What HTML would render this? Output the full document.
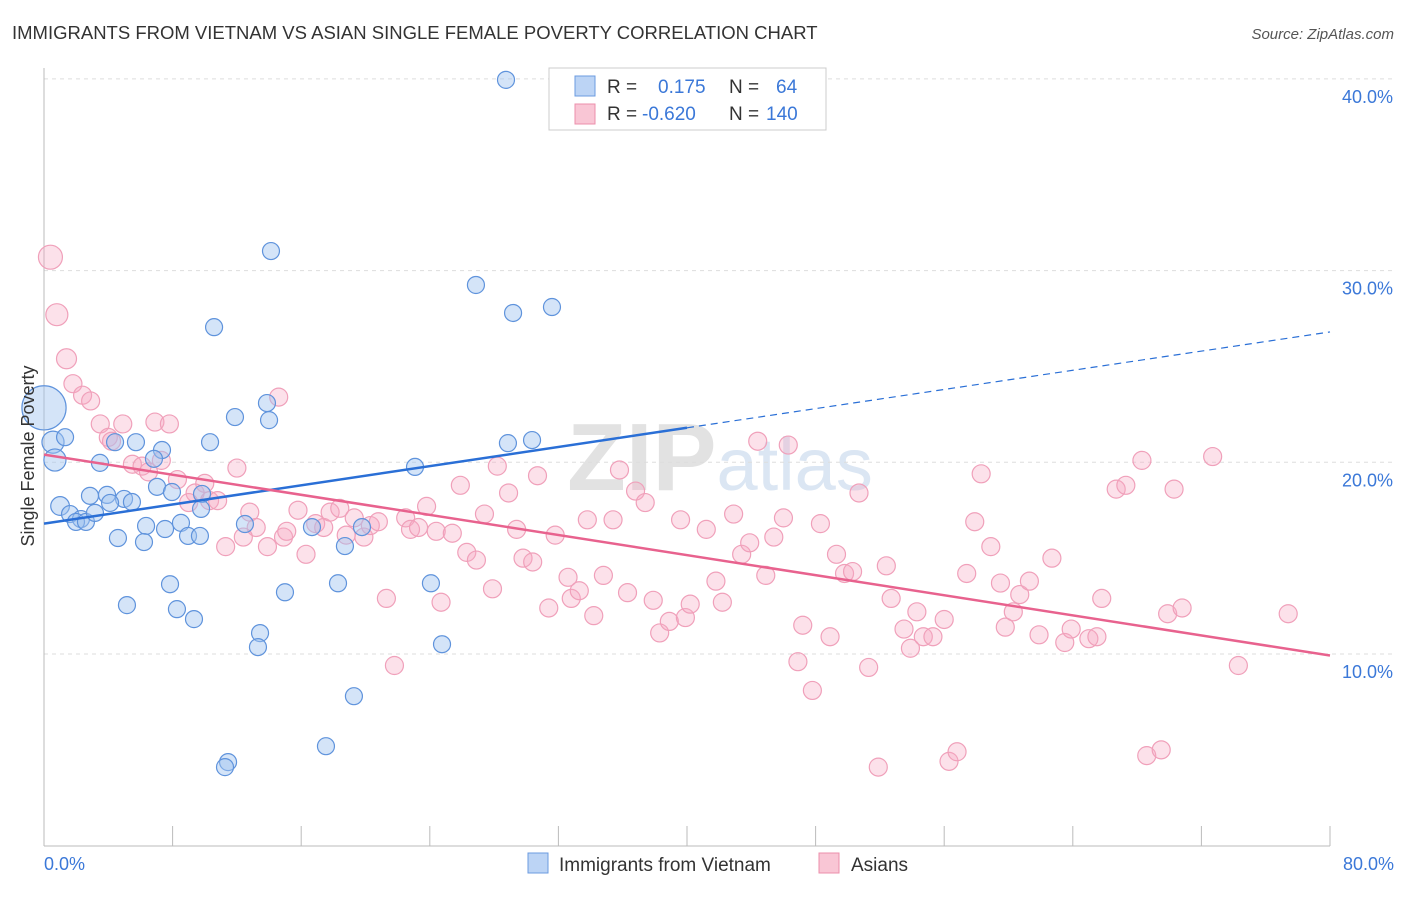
<!DOCTYPE html>
<html><head><meta charset="utf-8"><style>
body{margin:0;background:#fff;font-family:"Liberation Sans",sans-serif;}
svg text{font-family:"Liberation Sans",sans-serif;}
</style></head><body>
<svg id="chart" width="1406" height="892" viewBox="0 0 1406 892">
<text x="12" y="39" font-size="18.5" fill="#333">IMMIGRANTS FROM VIETNAM VS ASIAN SINGLE FEMALE POVERTY CORRELATION CHART</text>
<text x="1394" y="39" font-size="15" fill="#555" font-style="italic" text-anchor="end">Source: ZipAtlas.com</text>
<text x="720" y="490" font-size="96" fill="#e6e6e6" text-anchor="middle" font-weight="bold" font-family="Liberation Serif"><tspan fill="#e2e2e2">ZIP</tspan><tspan fill="#dbe6f3" font-family="Liberation Sans" font-weight="normal" font-size="74">atlas</tspan></text>
<g id="grid"></g>
<g id="axes"></g>
<g id="pts"></g>
<g id="lines"></g>
<text x="34" y="456" font-size="18" fill="#333" text-anchor="middle" transform="rotate(-90 34 456)">Single Female Poverty</text>
<text x="44" y="870" font-size="18" fill="#3b78d8">0.0%</text>
<text x="1394" y="870" font-size="18" fill="#3b78d8" text-anchor="end">80.0%</text>
<g>
<rect x="549" y="68" width="277" height="62" fill="#fff" stroke="#ccc"/>
<rect x="575" y="76" width="20" height="20" fill="#bcd4f5" stroke="#6b9be0"/>
<rect x="575" y="104" width="20" height="20" fill="#f9c6d5" stroke="#ec8fab"/>
<text x="607" y="93" font-size="19" fill="#333">R = <tspan fill="#3b78d8" x="658">0.175</tspan><tspan fill="#333" x="729">N =</tspan><tspan fill="#3b78d8" x="776">64</tspan></text>
<text x="607" y="120" font-size="19" fill="#333">R = <tspan fill="#3b78d8" x="642">-0.620</tspan><tspan fill="#333" x="729">N =</tspan><tspan fill="#3b78d8" x="766">140</tspan></text>
</g>
<g>
<rect x="528" y="853" width="20" height="20" fill="#bcd4f5" stroke="#6b9be0"/>
<text x="559" y="871" font-size="19" fill="#333">Immigrants from Vietnam</text>
<rect x="819" y="853" width="20" height="20" fill="#f9c6d5" stroke="#ec8fab"/>
<text x="851" y="871" font-size="19" fill="#333">Asians</text>
</g>
</svg>
<script>
const yTicks=[10,20,30,40];
const yTickLabels=["10.0%","20.0%","30.0%","40.0%"];
const xTicks=[0,8,16,24,32,40,48,56,64,72,80];
const blueX=[28.74,14.12,26.87,29.18,31.6,10.58,0,13.87,11.88,14.0,0.56,1.31,4.42,5.72,10.33,28.86,30.36,0.68,7.34,3.48,6.84,23.08,7.03,2.86,4.98,3.92,5.47,4.11,7.96,9.83,9.77,1.0,1.62,2.3,1.99,2.61,3.17,6.35,8.52,8.96,9.7,12.5,7.53,4.6,6.22,19.78,16.67,18.72,7.84,18.29,24.07,14.99,5.16,8.27,9.33,13.44,13.31,24.76,19.28,17.54,11.45,11.26];
const blueY=[39.95,31.02,29.25,27.79,28.1,27.05,22.84,23.09,22.36,22.2,21.05,21.31,21.05,21.05,21.05,21.0,21.16,20.12,20.64,19.97,20.18,19.76,18.72,18.25,18.09,18.3,17.93,17.88,18.45,18.35,17.57,17.72,17.3,17.04,16.89,16.89,17.36,16.68,16.84,16.16,16.16,16.78,16.52,16.05,15.84,16.62,16.62,15.63,13.64,13.69,13.69,13.22,12.55,12.34,11.82,11.09,10.36,10.51,7.8,5.19,4.36,4.1];
const blueSize=[1,1,1,1,1,1,2.6,1,1,1,1.3,1,1,1,1,1,1,1.3,1,1,1,1,1,1,1,1,1,1,1,1,1,1.1,1,1,1,1,1,1,1,1,1,1,1,1,1,1,1,1,1,1,1,1,1,1,1,1,1,1,1,1,1,1];
const pinkX=[0.4,0.8,1.4,1.8,2.4,2.9,3.5,4.9,6.9,7.8,14.6,4.0,4.2,5.5,6.1,7.3,6.5,12.0,8.3,9.4,9.0,10.3,10.8,10.0,12.8,11.3,13.2,12.4,13.9,14.9,15.1,15.8,16.3,16.9,17.4,17.8,18.4,18.8,19.3,19.9,20.3,20.8,21.3,21.8,22.5,22.8,23.3,23.8,24.4,25.4,24.7,25.9,26.3,26.9,27.4,27.9,28.2,28.9,29.4,29.8,30.4,30.7,31.4,31.8,32.6,32.8,33.3,33.8,34.2,34.8,35.4,35.8,36.3,36.8,37.4,37.9,38.3,38.9,39.6,39.9,40.2,41.2,41.8,42.2,42.9,43.4,43.9,44.4,44.9,45.4,46.0,46.3,46.9,47.2,47.8,48.3,48.9,49.3,49.8,50.3,50.7,51.3,51.9,52.4,52.7,53.5,53.9,54.3,54.7,55.3,56.0,56.3,56.8,57.4,57.9,58.3,58.9,59.5,59.8,60.3,60.7,61.3,61.9,62.7,63.5,63.9,65.0,65.5,65.8,66.7,67.3,68.3,68.6,69.5,69.9,70.3,70.8,72.7,74.3,77.4];
const pinkY=[30.7,27.7,25.4,24.1,23.5,23.2,22.0,22.0,22.1,22.0,23.4,21.3,21.1,19.9,19.8,20.1,19.5,19.7,19.1,18.4,17.9,18.0,18.0,18.9,17.4,15.6,16.6,16.1,15.6,16.1,16.4,17.5,15.2,16.8,16.6,17.4,17.6,16.2,17.1,16.1,16.7,16.9,12.9,9.4,17.1,16.5,16.6,17.7,16.4,16.3,12.7,18.8,15.3,14.9,17.3,13.4,19.8,18.4,16.5,15.0,14.8,19.3,12.4,16.2,14.0,12.9,13.3,17.0,12.0,14.1,17.0,19.6,13.2,18.5,17.9,12.8,11.1,11.7,17.0,11.9,12.6,16.5,13.8,12.7,17.3,15.2,15.8,21.1,14.1,16.1,17.1,20.9,9.6,11.5,8.1,16.8,10.9,15.2,14.2,14.3,18.4,9.3,4.1,14.6,12.9,11.3,10.3,12.2,10.9,10.9,11.8,4.4,4.9,14.2,16.9,19.4,15.6,13.7,11.4,12.2,13.1,13.8,11.0,15.0,10.6,11.3,10.8,10.9,12.9,18.6,18.8,20.1,4.7,5.0,12.1,18.6,12.4,20.3,9.4,12.1];
const blueFit=[16.8,0.125];
const pinkFit=[20.4,-0.131];

const X0=44,X1=1330,Y0=845.7,YPER=19.17;
const sx=v=>X0+(X1-X0)*v/80;
const sy=v=>Y0-v*YPER;
const NS="http://www.w3.org/2000/svg";
function mk(tag,parent,attrs){const e=document.createElementNS(NS,tag);for(const k in attrs)e.setAttribute(k,attrs[k]);document.getElementById(parent).appendChild(e);return e;}

yTicks.forEach((t,i)=>{
  const g=mk('line','grid',{x1:X0,x2:1394,y1:sy(t),y2:sy(t),stroke:'#ddd','stroke-dasharray':'4 4'});
  
  
  const l=mk('text','grid',{x:1393,y:sy(t)+24,'font-size':18,fill:'#3b78d8','text-anchor':'end'});
  l.textContent=yTickLabels[i];
  
  
});
const ya=mk('line','axes',{x1:X0,x2:X0,y1:68,y2:846,stroke:'#bbb'});


const xa=mk('line','axes',{x1:X0,x2:X1,y1:846,y2:846,stroke:'#bbb'});


xTicks.forEach(t=>{
  const k=mk('line','axes',{x1:sx(t),x2:sx(t),y1:826,y2:846,stroke:'#bbb'});
  
  
});
pinkX.forEach((x,i)=>{
  const r=i==0?12:(i==1?11:(i==2?10:9));
  const c=mk('circle','pts',{cx:sx(x),cy:sy(pinkY[i]),r:r,fill:'rgba(246,168,194,0.35)',stroke:'#f0a0ba','stroke-width':1.2});
  
  
});
blueX.forEach((x,i)=>{
  const c=mk('circle','pts',{cx:sx(x),cy:sy(blueY[i]),r:8.5*blueSize[i],fill:'rgba(160,196,240,0.45)',stroke:'#5f93dc','stroke-width':1.2});
  
  
});
const bl=mk('line','lines',{x1:sx(0),y1:sy(blueFit[0]),x2:sx(40),y2:sy(blueFit[0]+blueFit[1]*40),stroke:'#2a6fd6','stroke-width':2.5});


const bd=mk('line','lines',{x1:sx(40),y1:sy(blueFit[0]+blueFit[1]*40),x2:sx(80),y2:sy(blueFit[0]+blueFit[1]*80),stroke:'#2a6fd6','stroke-width':1.2,'stroke-dasharray':'7 5'});


const pl=mk('line','lines',{x1:sx(0),y1:sy(pinkFit[0]),x2:sx(80),y2:sy(pinkFit[0]+pinkFit[1]*80),stroke:'#e8628e','stroke-width':2.5});


</script>
</body></html>
